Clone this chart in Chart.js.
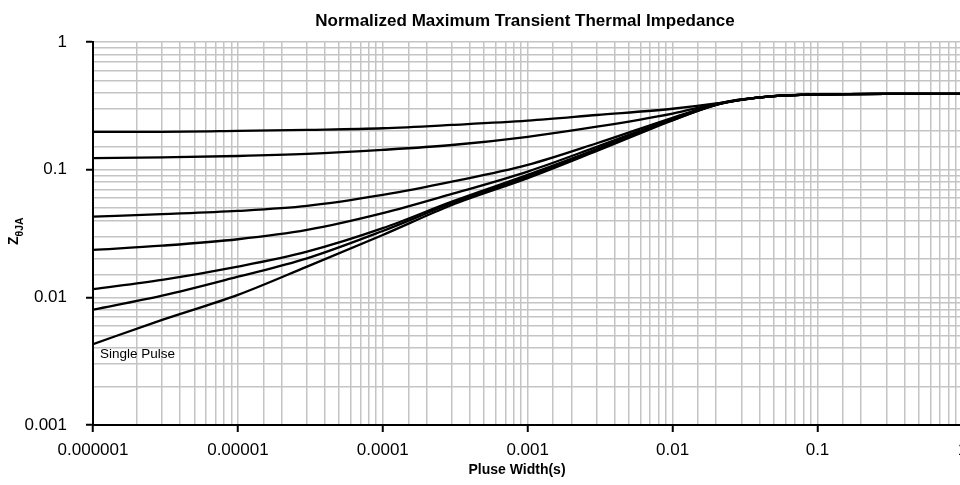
<!DOCTYPE html>
<html>
<head>
<meta charset="utf-8">
<script src="https://cdn.jsdelivr.net/npm/chart.js@4.4.1/dist/chart.umd.min.js"></script>
<style>
  html, body { margin: 0; padding: 0; background: #fff; overflow: hidden; }
  canvas { display: block; }
</style>
</head>
<body>
<canvas id="chart" width="985" height="485"></canvas>
<script>
// Datos (ancho de pulso en s, impedancia normalizada)
const pulseWidth  = [1e-6, 3e-6, 1e-5, 3e-5, 1e-4, 3e-4, 1e-3, 3e-3, 1e-2, 2e-2, 3e-2, 5e-2, 0.1, 0.3, 1];
const duty50      = [0.198, 0.198, 0.201, 0.205, 0.211, 0.224, 0.242, 0.268, 0.300, 0.330, 0.355, 0.377, 0.388, 0.392, 0.392];
const duty30      = [0.123, 0.125, 0.128, 0.133, 0.143, 0.156, 0.181, 0.217, 0.275, 0.328, 0.355, 0.377, 0.388, 0.392, 0.392];
const duty10      = [0.0428, 0.0448, 0.0475, 0.052, 0.0634, 0.0805, 0.109, 0.161, 0.255, 0.325, 0.354, 0.377, 0.388, 0.392, 0.392];
const duty5       = [0.0235, 0.0254, 0.0285, 0.0337, 0.0456, 0.0645, 0.0966, 0.151, 0.250, 0.324, 0.354, 0.377, 0.388, 0.392, 0.392];
const duty2       = [0.0116, 0.0137, 0.0174, 0.0228, 0.0348, 0.0562, 0.091, 0.145, 0.247, 0.323, 0.353, 0.377, 0.388, 0.392, 0.392];
const duty1       = [0.0080, 0.0103, 0.0145, 0.0202, 0.0331, 0.0546, 0.0882, 0.143, 0.245, 0.322, 0.353, 0.377, 0.388, 0.392, 0.392];
const singlePulse = [0.0043, 0.00665, 0.01045, 0.0174, 0.0308, 0.0529, 0.0857, 0.140, 0.243, 0.321, 0.352, 0.377, 0.388, 0.392, 0.392];

const xTickLabels = ['0.000001', '0.00001', '0.0001', '0.001', '0.01', '0.1', '1'];
const yTickLabels = ['0.001', '0.01', '0.1', '1'];

const chartTitle = 'Normalized Maximum Transient Thermal Impedance';
const xTitle = 'Pluse Width(s)';
const singlePulseLabel = 'Single Pulse';

function esDecada(v) {
  const l = Math.log10(v);
  return Math.abs(l - Math.round(l)) < 1e-6;
}

const series = [duty50, duty30, duty10, duty5, duty2, duty1, singlePulse];

const datasets = series.map(s => ({
  data: s.map((y, i) => ({ x: pulseWidth[i], y: y })),
  borderColor: '#000',
  borderWidth: 2.3,
  pointRadius: 0,
  fill: false,
  cubicInterpolationMode: 'monotone'
}));

// Textos extra: título, ejes y etiqueta de pulso único
const textos = {
  id: 'textos',
  afterDraw(chart) {
    const c = chart.ctx;
    const xs = chart.scales.x;
    const ys = chart.scales.y;
    c.save();
    c.fillStyle = '#000';

    c.font = 'bold 17px "Liberation Sans", Arial, sans-serif';
    c.textAlign = 'center';
    c.textBaseline = 'middle';
    c.fillText(chartTitle, 525, 21);

    c.font = 'bold 14px "Liberation Sans", Arial, sans-serif';
    c.fillText(xTitle, 517, 470);

    // etiqueta del eje Y con subíndice
    c.translate(18, 245);
    c.rotate(-Math.PI / 2);
    c.textAlign = 'left';
    c.textBaseline = 'alphabetic';
    c.font = 'bold 14px "Liberation Sans", Arial, sans-serif';
    c.fillText('Z', 0, 0);
    const wz = c.measureText('Z').width;
    c.font = 'bold 10.5px "Liberation Sans", Arial, sans-serif';
    c.fillText('\u03B8JA', wz, 5);
    c.restore();

    c.save();
    c.fillStyle = '#000';
    c.font = '13.5px "Liberation Sans", Arial, sans-serif';
    c.textAlign = 'left';
    c.textBaseline = 'top';
    c.fillText(singlePulseLabel, xs.getPixelForValue(pulseWidth[0]) + 7, ys.getPixelForValue(singlePulse[0]) + 3);
    c.restore();
  }
};

const ctx = document.getElementById('chart').getContext('2d');
const chart = new Chart(ctx, {
  type: 'line',
  data: { datasets: datasets },
  options: {
    responsive: false,
    animation: false,
    layout: { padding: { left: 0, right: 22.6, top: 42, bottom: 0 } },
    plugins: {
      legend: { display: false },
      tooltip: { enabled: false },
      title: { display: false }
    },
    scales: {
      x: {
        type: 'logarithmic',
        min: 1e-6,
        max: 1,
        afterFit(scale) { scale.height = 60; },
        border: { color: '#000', width: 2 },
        grid: {
          color: '#c4c4c4',
          lineWidth: 1.5,
          tickLength: 7,
          tickWidth: 2,
          tickColor: c => (c.tick && esDecada(c.tick.value)) ? '#000' : 'rgba(0,0,0,0)'
        },
        ticks: {
          autoSkip: false,
          maxRotation: 0,
          padding: 8,
          color: '#000',
          font: { family: '"Liberation Sans", Arial, sans-serif', size: 17 },
          callback: v => esDecada(v) ? xTickLabels[Math.round(Math.log10(v)) + 6] : ''
        }
      },
      y: {
        type: 'logarithmic',
        min: 0.001,
        max: 1,
        afterFit(scale) { scale.width = 93; },
        border: { color: '#000', width: 2 },
        grid: {
          color: '#c4c4c4',
          lineWidth: 1.5,
          tickLength: 7,
          tickWidth: 2,
          tickColor: c => (c.tick && esDecada(c.tick.value)) ? '#000' : 'rgba(0,0,0,0)'
        },
        ticks: {
          autoSkip: false,
          padding: 19,
          color: '#000',
          font: { family: '"Liberation Sans", Arial, sans-serif', size: 17 },
          callback: v => esDecada(v) ? yTickLabels[Math.round(Math.log10(v)) + 3] : ''
        }
      }
    }
  },
  plugins: [textos]
});
</script>
</body>
</html>
